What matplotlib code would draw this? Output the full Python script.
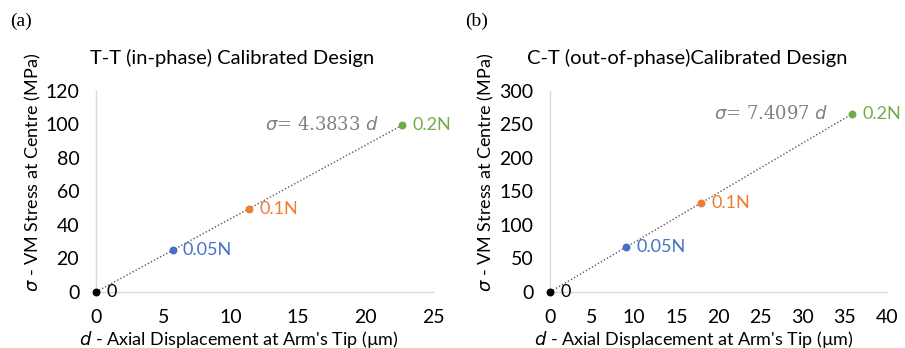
import matplotlib as mpl
mpl.use('Agg')
import matplotlib.pyplot as plt

# panel (a): T-T in-phase
d_a = [0, 5.68, 11.36, 22.72]
s_a = [0, 24.9, 49.8, 99.6]
# panel (b): C-T out-of-phase
d_b = [0, 8.98, 17.95, 35.9]
s_b = [0, 66.5, 133.0, 266.0]
labels = ['0', '0.05N', '0.1N', '0.2N']
colors = ['#000000', '#4472C4', '#ED7D31', '#70AD47']

plt.rcParams['font.family'] = ['Lato', 'DejaVu Sans']
fig = plt.figure(figsize=(9.05, 3.48), dpi=100)

panels = [
  dict(d=d_a, s=s_a, xlim=25, xstep=5, ylim=120, ystep=20, left=0.106, right=0.4785,
       title='T-T (in-phase) Calibrated Design', tx=0.257, tag='(a)', tagx=0.011,
       eq=r'$\sigma$= 4.3833 $d$', eqpos=(21.0, 99.6), ylx=0.036, xlx=0.264),
  dict(d=d_b, s=s_b, xlim=40, xstep=5, ylim=300, ystep=50, left=0.6077, right=0.980,
       title='C-T (out-of-phase)Calibrated Design', tx=0.759, tag='(b)', tagx=0.514,
       eq=r'$\sigma$= 7.4097 $d$', eqpos=(33.0, 266), ylx=0.537, xlx=0.767),
]

for p in panels:
  ax = fig.add_axes([p['left'], 0.161, p['right'] - p['left'], 0.5775])
  ax.plot([0, p['d'][-1]], [0, p['s'][-1]], ls=(0, (1, 1.5)), color='#595959', lw=1.0, zorder=1)
  for x, y, lab, c in zip(p['d'], p['s'], labels, colors):
    ax.scatter([x], [y], s=22, color=c, zorder=3, clip_on=False)
    ax.annotate(lab, (x, y), xytext=(7.5, 0), textcoords='offset points', color=c,
                fontsize=13, va='center', ha='left', annotation_clip=False)
  ax.text(p['eqpos'][0], p['eqpos'][1], p['eq'], color='#808080', fontsize=13,
          ha='right', va='center', family=['DejaVu Serif'])
  ax.set_xlim(0, p['xlim'])
  ax.set_ylim(0, p['ylim'])
  ax.set_xticks(range(0, p['xlim'] + 1, p['xstep']))
  ax.set_yticks(range(0, p['ylim'] + 1, p['ystep']))
  for sp in ['top', 'right']:
    ax.spines[sp].set_visible(False)
  for sp in ['left', 'bottom']:
    ax.spines[sp].set_color('#d9d9d9')
    ax.spines[sp].set_linewidth(1.0)
  ax.tick_params(length=0, labelsize=14, colors='#000000')
  ax.tick_params(axis='x', pad=12)
  ax.tick_params(axis='y', pad=12)
  fig.text(p['tx'], 0.832, p['title'], fontsize=14.5, ha='center', va='center')
  fig.text(p['tagx'], 0.94, p['tag'], fontsize=14, ha='left', va='center',
           family=['Liberation Serif'])
  fig.text(p['ylx'], 0.505, r'$\sigma$' + ' - VM Stress at Centre (MPa)', rotation=90,
           fontsize=13, ha='center', va='center')
  fig.text(p['xlx'], 0.025, r'$d$' + ' - Axial Displacement at Arm\'s Tip (\u00b5m)',
           fontsize=13, ha='center', va='center')

plt.savefig('out.png', dpi=100)
plt.close()
